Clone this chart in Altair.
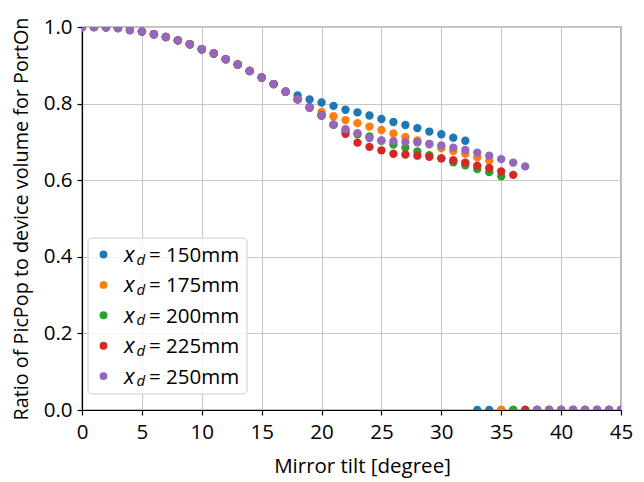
import altair as alt
import pandas as pd

# ---------------- data ----------------
tilt = list(range(0, 46))
series_labels = ["150mm", "175mm", "200mm", "225mm", "250mm"]
series_colors = ["#1f77b4", "#ff7f0e", "#2ca02c", "#d62728", "#9467bd"]

# shared part of the curve, tilt 0..17
common_head = [1.000, 1.000, 0.999, 0.997, 0.992, 0.988, 0.981, 0.974, 0.965,
               0.955, 0.942, 0.931, 0.916, 0.902, 0.885, 0.868, 0.851, 0.831]

# values from tilt 18 onward (after which the ratio drops to 0)
tail_150 = [0.821, 0.811, 0.803, 0.794, 0.784, 0.777, 0.769, 0.760, 0.752,
            0.744, 0.736, 0.727, 0.720, 0.711, 0.703]
tail_175 = [0.811, 0.790, 0.778, 0.767, 0.757, 0.749, 0.740, 0.731, 0.722,
            0.713, 0.704, 0.694, 0.684, 0.676, 0.669, 0.660, 0.651]
tail_200 = [0.811, 0.790, 0.769, 0.745, 0.728, 0.720, 0.714, 0.703, 0.693,
            0.685, 0.675, 0.665, 0.657, 0.647, 0.639, 0.629, 0.621, 0.610]
tail_225 = [0.811, 0.790, 0.769, 0.745, 0.721, 0.698, 0.687, 0.678, 0.669,
            0.667, 0.664, 0.661, 0.657, 0.652, 0.646, 0.638, 0.632, 0.623, 0.614]
tail_250 = [0.811, 0.790, 0.769, 0.745, 0.733, 0.723, 0.710, 0.704, 0.702,
            0.700, 0.699, 0.695, 0.691, 0.685, 0.679, 0.672, 0.664, 0.655, 0.646,
            0.636]
tails = [tail_150, tail_175, tail_200, tail_225, tail_250]

x_ticks = [0, 5, 10, 15, 20, 25, 30, 35, 40, 45]
y_ticks = [0.0, 0.2, 0.4, 0.6, 0.8, 1.0]

FONT = "Open Sans"
FS = 20.5

rows = []
for k, (lab, tail) in enumerate(zip(series_labels, tails)):
    vals = common_head + tail
    vals = vals + [0.0] * (len(tilt) - len(vals))
    for t, v in zip(tilt, vals):
        rows.append({"tilt": t, "ratio": v, "series": lab, "k": k})
df = pd.DataFrame(rows)

color_scale = alt.Scale(domain=series_labels, range=series_colors)

points = alt.Chart(df).mark_circle(size=70, opacity=1, clip=True).encode(
    x=alt.X("tilt:Q",
            scale=alt.Scale(domain=[0, 45], nice=False, zero=False),
            axis=alt.Axis(values=x_ticks, title="Mirror tilt [degree]",
                          titleX=280, labelFlush=False)),
    y=alt.Y("ratio:Q",
            scale=alt.Scale(domain=[0, 1], nice=False),
            axis=alt.Axis(values=y_ticks, format=".1f", labelFlush=False,
                          title="Ratio of PicPop to device volume for PortOn",
                          titleFontSize=19.8)),
    color=alt.Color("series:N", scale=color_scale, legend=None),
    order=alt.Order("k:Q"),
)

# ---------------- hand-made legend (italic x with subscript d) ----------------
leg = pd.DataFrame({
    "series": series_labels,
    "i": list(range(len(series_labels))),
    "rest": ["= " + s for s in series_labels],
})
leg_base = alt.Chart(leg).transform_calculate(
    cy="227.5 + 30.4 * datum.i",
    by="235 + 30.4 * datum.i",
    dy="237.5 + 30.4 * datum.i",
)

box = alt.Chart(pd.DataFrame({"a": [0]})).mark_rect(
    fill="white", fillOpacity=0.8, stroke="#cccccc", strokeWidth=1,
    cornerRadius=4,
).encode(x=alt.value(6), x2=alt.value(165), y=alt.value(211), y2=alt.value(367))

ldots = leg_base.mark_circle(size=62, opacity=1).encode(
    x=alt.value(21.5),
    y=alt.Y("cy:Q", scale=None, axis=None),
    color=alt.Color("series:N", scale=color_scale, legend=None),
)
tx = leg_base.mark_text(align="left", baseline="alphabetic", font=FONT,
                        fontSize=22, fontStyle="italic", color="black").encode(
    x=alt.value(42), y=alt.Y("by:Q", scale=None, axis=None), text=alt.value("x"))
td = leg_base.mark_text(align="left", baseline="alphabetic", font=FONT,
                        fontSize=15, fontStyle="italic", color="black").encode(
    x=alt.value(54.5), y=alt.Y("dy:Q", scale=None, axis=None), text=alt.value("d"))
trest = leg_base.mark_text(align="left", baseline="alphabetic", font=FONT,
                           fontSize=FS, color="black").encode(
    x=alt.value(67), y=alt.Y("by:Q", scale=None, axis=None), text="rest:N")

chart = alt.layer(points, box, ldots, tx, td, trest).properties(
    width=539, height=383,
    autosize=alt.AutoSizeParams(type="none"),
    padding={"left": 82, "top": 27, "right": 23, "bottom": 72},
    background="white",
).configure_view(
    stroke="black", strokeWidth=1.2,
).configure_axis(
    labelFont=FONT, labelFontSize=FS, labelColor="black",
    titleFont=FONT, titleFontSize=FS, titleFontWeight="normal", titleColor="black",
    domainColor="black", domainWidth=1.2,
    tickColor="black", tickSize=5, tickWidth=1.2,
    gridColor="#c8c8c8", gridWidth=1.2,
    labelPadding=5,
).configure_axisX(
    titlePadding=14, labelPadding=7,
).configure_axisY(
    titlePadding=12,
)

chart.save("out.html", embed_options={"renderer": "svg", "actions": False})
